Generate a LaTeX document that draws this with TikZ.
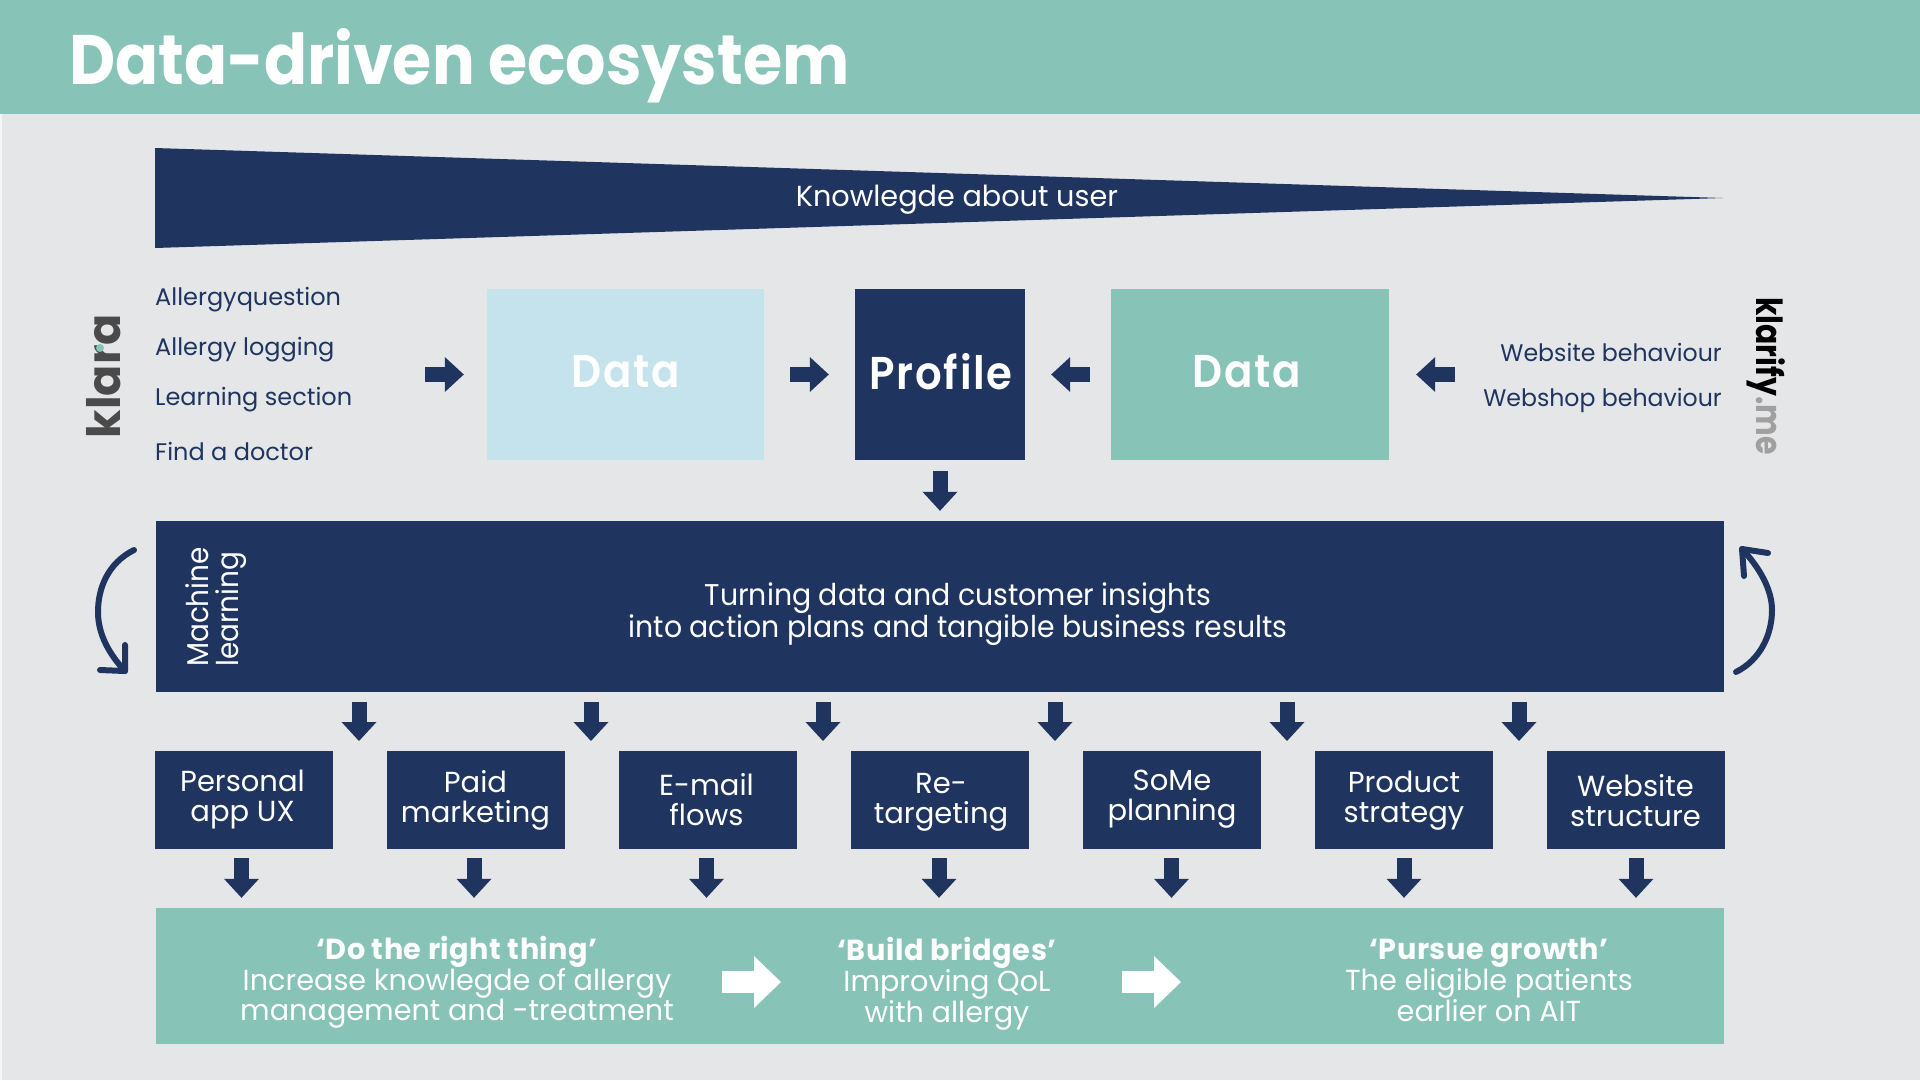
\documentclass[tikz,border=0pt]{standalone}
\usepackage{fontspec}
\setmainfont{Poppins}
\newfontfamily\titlefont[FakeStretch=0.907]{Poppins}
\newfontfamily\headfont[BoldFont=* SemiBold,FakeStretch=0.91]{Poppins}
\newfontfamily\logofont[FakeStretch=0.83]{Poppins}
\newfontfamily\klarafont{Poppins}
\newfontfamily\bodyfont[FakeStretch=0.99]{Poppins}
\newfontfamily\mainfont[FakeStretch=0.945]{Poppins}
\newfontfamily\sidefont[FakeStretch=0.93]{Poppins}
\newfontfamily\rightfont[FakeStretch=0.985]{Poppins}
\usetikzlibrary{arrows.meta,positioning,calc}
\definecolor{navy}{HTML}{1F3560}
\definecolor{teal}{HTML}{87C3B6}
\definecolor{pale}{HTML}{C5E3ED}
\definecolor{bgrey}{HTML}{E5E6E8}
\definecolor{logogrey}{HTML}{4A4A4A}
\definecolor{megrey}{HTML}{A0A0A0}
\newcommand{\fsz}[2]{\fontsize{#1}{#2}\selectfont}
\newcommand{\subhead}[2]{{\bfseries\addfontfeature{LetterSpace=#1}#2}}
\tikzset{
  panel/.style={rectangle,inner sep=0pt,fill=#1,text=white,align=center},
  smallbox/.style={panel=navy,minimum width=178pt,minimum height=98pt},
  boxtext/.style={text=white,inner sep=0pt,align=center,font=\fsz{29}{30}},
  listitem/.style={inner sep=0pt,text=navy,font=\fsz{24}{28}},
  rightitem/.style={inner sep=0pt,text=navy,font=\rightfont\fsz{24}{28}},
  bigword/.style={text=white,inner sep=0pt,font=\headfont\fsz{46}{50}\bfseries\addfontfeature{LetterSpace=4}},
  band/.style={text=white,inner sep=0pt,align=center,font=\bodyfont\fsz{29}{29.5}},
  blockdark/.style={draw=navy,line width=15pt,-{Triangle[width=35pt,length=19pt,line width=0pt]}},
  blockwhite/.style={draw=white,line width=22pt,-{Triangle[width=52pt,length=27pt,line width=0pt]}},
  curved/.style={draw=navy,line width=6pt,line cap=round,line join=round},
}
\begin{document}
\begin{tikzpicture}[x=1pt,y=-1pt]
\useasboundingbox (0,0) rectangle (1920,1080);
\fill[bgrey] (0,0) rectangle (1920,1080);
\fill[white!60!bgrey] (0,114) rectangle (1.5,1080);
\fill[teal] (0,0) rectangle (1920,114);
\node[anchor=west,inner sep=0pt,text=white,font=\titlefont\fsz{70}{72}\bfseries] (title) at (69,66) {Data-driven ecosystem};

\fill[navy] (155,148) -- (1723,198) -- (155,248) -- cycle;
\node[inner sep=0pt,text=white,font=\bodyfont\fsz{29}{30}] (know) at (957,200) {Knowlegde about user};

% list left
\node[listitem,anchor=west] (l1) at (155,300) {Allergyquestion};
\node[listitem,anchor=west] (l2) at (155,350) {Allergy logging};
\node[listitem,anchor=west] (l3) at (155,400) {Learning section};
\node[listitem,anchor=west] (l4) at (155,451) {Find a doctor};
% list right
\node[rightitem,anchor=east] (r1) at (1722,352) {Website behaviour};
\node[rightitem,anchor=east] (r2) at (1722,400) {Webshop behaviour};

% logos
\node[rotate=90,inner sep=0pt,text=logogrey,font=\klarafont\fsz{46}{50}\bfseries] (klara) at (104,376) {klara};
\fill[teal] (100,348) circle (4);
\node[rotate=-90,inner sep=0pt,font=\logofont\fsz{36}{42}\bfseries] (klarify) at (1766,376) {klarify\textcolor{megrey}{.me}};

% top row
\node[panel=pale,minimum width=277pt,minimum height=171pt] (d1) at (625.5,374.5) {};
\node[bigword] at (626,372) {Data};
\node[panel=navy,minimum width=170pt,minimum height=171pt] (prof) at (940,374.5) {};
\node[bigword] at (941,372) {Profile};
\node[panel=teal,minimum width=278pt,minimum height=171pt] (d2) at (1250,374.5) {};
\node[bigword] at (1247,372) {Data};

\coordinate (inL) at (404,374.5);
\coordinate (inR) at (1478,374.5);
\draw[blockdark,shorten <=21pt,shorten >=23pt] (inL) -- (d1.west);
\draw[blockdark,shorten <=26pt,shorten >=26pt] (d1.east) -- (prof.west);
\draw[blockdark,shorten <=21pt,shorten >=26pt] (d2.west) -- (prof.east);
\draw[blockdark,shorten <=23pt,shorten >=27pt] (inR) -- (d2.east);

% machine learning bar
\node[panel=navy,minimum width=1568pt,minimum height=171pt] (ml) at (940,606.5) {};
\node[band,font=\mainfont\fsz{30}{28.5}] (mltext) at (958,614) {Turning data and customer insights\\into action plans and tangible business results};
\node[band,rotate=90,align=left,font=\sidefont\fsz{30}{29.5}] (mllabel) at (216,607) {Machine\\learning};
\draw[blockdark,shorten <=11pt,shorten >=10pt] (prof.south) -- (prof.south |- ml.north);

% curved arrows
\coordinate (cl1) at (134,550);
\coordinate (cl2) at (125,671);
\coordinate (cr1) at (1736,672);
\coordinate (cr2) at (1742,549);
\draw[curved] (cl1) .. controls (108,563) and (98,588) .. (98,612) .. controls (98,635) and (110,655) .. (cl2);
\draw[curved] (100,670) -- (cl2) -- (125,645);
\draw[curved] (cr1) .. controls (1760,660) and (1772,635) .. (1772,610) .. controls (1772,590) and (1760,568) .. (cr2);
\draw[curved] (1768,553) -- (cr2) -- (1744,576);

% small boxes
\node[smallbox] (b1) at (244,800) {};
\node[smallbox] (b2) at (476,800) {};
\node[smallbox] (b3) at (708,800) {};
\node[smallbox] (b4) at (940,800) {};
\node[smallbox] (b5) at (1172,800) {};
\node[smallbox] (b6) at (1404,800) {};
\node[smallbox] (b7) at (1635.5,800) {};
\node[boxtext] (x1) at (242.5,800) {Personal\\app UX};
\node[boxtext] (x2) at (475.5,800) {Paid\\marketing};
\node[boxtext] (x3) at (706.5,800) {E-mail\\flows};
\node[boxtext] (x4) at (941,802) {Re-\\targeting};
\node[boxtext] (x5) at (1172,799) {SoMe\\planning};
\node[boxtext] (x6) at (1404,801) {Product\\strategy};
\node[boxtext] (x7) at (1635.5,801) {Website\\structure};

% bottom band
\node[panel=teal,minimum width=1568pt,minimum height=136pt] (bar) at (940,976) {};
\node[band] (t1) at (457,982) {\subhead{1.7}{‘Do the right thing’}\\Increase knowlegde of allergy\\management and -treatment};
\node[band] (t2) at (947,984) {\subhead{2}{‘Build bridges’}\\Improving QoL\\with allergy};
\node[band] (t3) at (1489,980) {\subhead{1.7}{‘Pursue growth’}\\The eligible patients\\earlier on AIT};
\coordinate (w1) at (722,982);
\coordinate (w2) at (781,982);
\coordinate (w3) at (1122,982);
\coordinate (w4) at (1181,982);
\draw[blockwhite] (w1) -- (w2);
\draw[blockwhite] (w3) -- (w4);

% arrows bar -> small boxes
\foreach \xx/\nn in {359/a,591/b,823/c,1055/d,1287/e,1519/f}{
  \coordinate (s\nn) at (\xx,692);
  \coordinate (e\nn) at (\xx,751);
  \draw[blockdark,shorten <=10pt,shorten >=10pt] (s\nn) -- (e\nn);
}
% arrows boxes -> band
\foreach \nn/\dx in {b1/-2.5,b2/-2,b3/-1.5,b4/-1,b5/-0.5,b6/0,b7/0.5}{
  \draw[blockdark,shorten <=9pt,shorten >=10pt] ($(\nn.south)+(\dx,0)$) -- ($(\nn.south |- bar.north)+(\dx,0)$);
}
\end{tikzpicture}
\end{document}
